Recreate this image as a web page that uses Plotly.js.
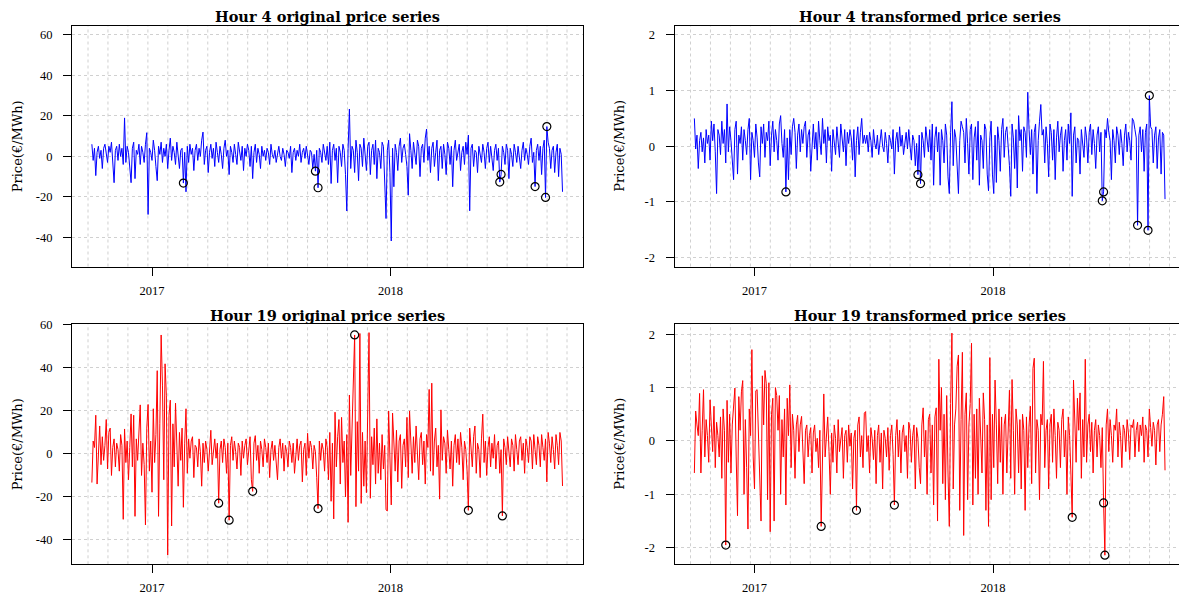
<!DOCTYPE html>
<html><head><meta charset="utf-8">
<script src="https://cdn.plot.ly/plotly-3.0.1.min.js"></script>
<style>html,body{margin:0;padding:0;background:#fff;}#chart{width:1179px;height:598px;}</style>
</head><body><div id="chart"></div>
<script>
// ---- data ----
const startDate = '2016-10-01';
const stepDays = 2;

const h4Original = [
6,-2,4,-9.5,2,5,-1,3,-6,4,6,1,-3,5,2,7,-1,-13,3,5,
-2,6,0,4,-4,19,-3,5,2,-5,-13,4,7,-11,3,1,6,-4,5,2,
-3,6,11.7,-28.7,4,2,-2,8,3,-5,-12,5,1,7,-3,4,0,6,-6,3,
9,-2,5,2,-4,7,1,-6,3,4,-13.2,2,-17.5,5,-3,6,1,4,-7,3,
6,-2,4,0,8,12,-4,3,5,-8,2,6,-1,4,-5,7,2,-3,5,1,
-6,4,8,0,3,-9,5,2,-3,6,1,-4,7,3,-2,5,-7,4,0,6,
3,-5,5,-11,2,6,-3,4,1,-6,5,0,3,-2,4,2,-4,6,1,-1,
3,-3,2,5,0,-2,4,1,-5,3,2,-1,5,-8,2,4,-2,3,0,6,
-3,2,4,-1,5,0,-4,3,2,-6,1,-7.3,3,-15.5,4,2,-3,6,1,-2,
5,-4,7,-13.4,3,6,-2,4,-13,5,2,-5,6,3,-9,-27,4,23.4,-6,5,
3,-8,8,2,-12,6,4,-5,9,1,-7,5,7,-9,3,6,-4,8,-11,4,
2,-6,7,5,-14,-30.7,3,8,-8,-41.8,4,-15,6,2,-7,5,9,-3,4,6,
1,-5,-19.2,11.2,3,-6,7,2,-4,8,5,-10,4,6,-3,9,13.5,-2,5,-8,
4,7,-5,2,8,-12,3,5,-6,6,1,-9,7,4,-4,5,-15,3,8,-2,
3,6,-7,2,5,-4,7,1,10.5,-26.9,4,6,-5,3,2,-8,5,1,-3,6,
2,-6,4,7,-3,5,0,-7,3,6,-2,4,-12.7,-8.9,5,2,-4,6,3,-11,
4,1,-5,6,2,-3,5,0,-6,3,7,-2,4,1,-4,5,9,-3,2,-14.9,
3,6,-2,5,-9,4,8,-20.3,14.7,7,4,-6,3,5,-8,2,6,-10,4,1,-17.5
];

const h4Transformed = [
0.5,-0.05,0.2,-0.4,0.1,0.25,-0.1,0.15,-0.3,0.3,0.05,0.2,-0.25,0.45,0.1,0.4,-0.1,-0.85,0.3,0.2,
-0.15,0.45,0.05,0.3,-0.3,0.76,-0.1,0.35,0.1,-0.25,-0.6,0.3,0.45,-0.5,0.2,0.05,0.35,-0.25,0.3,0.1,
-0.15,0.3,0.5,-0.6,0.25,0.1,-0.2,0.4,0.15,-0.3,-0.55,0.35,0.05,0.4,-0.2,0.25,0.1,0.45,-0.35,0.2,
0.45,-0.1,0.3,0.1,-0.25,0.4,0.55,0.05,-0.2,0.3,-0.82,0.15,-0.6,0.3,-0.15,0.35,0.5,0.25,-0.4,0.2,
0.4,-0.1,0.3,0.05,0.35,0.45,-0.2,0.2,0.3,-0.45,0.1,0.4,-0.05,0.25,-0.25,0.45,0.1,-0.15,0.5,0.05,
0.3,-0.3,0.35,0.1,0.2,-0.45,0.3,0.1,-0.15,0.35,0.05,-0.2,0.4,0.15,-0.1,0.3,-0.35,0.25,0.05,0.3,
0.15,-0.25,0.3,-0.55,0.1,0.35,-0.15,0.25,0.5,0.05,0.2,0.05,0.2,-0.1,0.25,0.1,-0.2,0.3,0.05,-0.05,
0.2,-0.15,0.1,0.3,0,-0.1,0.25,0.05,-0.3,0.2,0.1,-0.05,0.3,-0.5,0.1,0.25,-0.1,0.35,0,0.2,
-0.15,0.1,0.25,-0.05,0.3,0,-0.25,0.2,0.1,-0.35,0.05,-0.51,0.2,-0.67,0.25,0.1,-0.2,0.35,0.05,-0.1,
0.3,-0.25,0.4,-0.7,0.15,0.35,-0.1,0.25,-0.7,0.3,0.1,-0.3,0.4,0.2,-0.55,-0.85,0.25,0.8,-0.35,0.3,
0.15,-0.45,-0.85,0.1,0.45,0.35,0.25,-0.3,0.5,0.05,-0.5,0.3,0.4,-0.6,0.15,0.35,-0.25,0.45,-0.7,0.2,
0.1,-0.4,0.4,0.3,-0.5,-0.8,0.15,0.45,-0.5,-0.85,0.2,-0.65,0.35,0.1,-0.45,0.3,0.5,-0.2,0.25,0.35,
0.05,-0.35,-0.9,0.4,0.15,-0.4,0.3,-0.75,0.55,0.1,0.3,-0.45,0.35,0.25,-0.2,0.97,0.3,-0.15,0.3,-0.5,
0.25,0.4,-0.85,0.1,0.45,0.75,0.2,0.3,-0.3,0.35,0.05,-0.55,0.4,0.25,-0.25,0.3,-0.6,0.15,0.45,-0.1,
0.2,0.35,-0.45,0.1,0.3,-0.25,0.4,0.05,0.6,-0.9,0.2,0.35,-0.3,0.15,0.1,-0.5,0.3,0.05,-0.2,0.35,
0.15,-0.3,0.25,0.4,-0.15,0.3,0.05,-0.4,0.2,0.35,-0.1,0.25,-0.98,-0.82,0.3,0.15,0.5,0.25,0.1,-0.6,
0.3,0.1,-0.3,0.35,0.2,-0.15,0.3,0.05,-0.35,0.2,0.4,-0.1,0.25,0.1,-0.25,0.5,0.45,0.3,0.15,-1.42,
0.2,0.35,-0.1,0.3,-0.45,0.25,0.4,-1.51,0.91,0.35,0.3,-0.3,0.2,0.35,-0.4,0.15,0.3,-0.5,0.25,0.2,-0.95
];

const h19Original = [
-13.3,6,3,18,-14,2,13,-5,8,-3,4,16,-7,10,12,-10,3,7,-6,5,
2,-8,9,4,-30.4,11.6,-4,6,-12,3,18.6,-6,18,-29,7,-3,10,22.8,-10,5,
-5,-33,12,23,-8,6,-17.8,21,-4,9,38.7,-29,14,55.3,32,-12,41.9,27,-47,18,
25,-33.5,14,-6,23.6,8,-15,10,-3,12,-24.8,5,21,-9,7,-2,6,8,-11,4,
3,-6,7,1,-15,5,-4,6,2,-8,4,11,-5,3,7,-2,5,-22.9,2,6,
-4,7,3,-9,5,-30.8,4,8,-3,6,1,-7,5,3,-10,6,-2,4,7,-5,
3,8,-12,-17.4,5,8.5,-3,4,-9,6,2,-6,7,3,-4,5,-11,2,6,-3,
4,-5,-12,3,7,-2,5,-8,4,1,-6,6,3,-4,5,-9,2,7,-3,4,
6,-13,2,5,-10,9.6,-2,6,3,-7,4,1,-11,-25.4,6,-3,5,2,-8,7,
3,-12,10,-22,5,-30.2,19.4,-6,8,16,-14,17,-4,6,-20,9,-31.8,27.4,-10,12,
31,55.3,-24.5,15,-8,56,-23,10,-15,6,-18,14,56.4,-20.6,8,-5,12,-14,16.3,-9,
5,-12,9,-7,4,-26,-26.5,20,-10,-23.7,19,3,-8,11,-13,6,9,-16,4,7,
-6,17,-11,20,5,-9,8,-4,13,2,-12,7,10,-5,6,-14,9,3,30,-8,
32.9,-10,6,12,-6,4,-21,20.5,-3,8,5,-9,11,2,-7,6,-15,4,9,-4,
7,-5,10,3,-12,6,2,-8,-26.2,12,4,-6,8,13,-9,5,2,-11,7,18.5,
-4,6,-10,3,8,-6,5,-2,9,-7,4,6,-9,2,-28.8,7,3,-5,8,1,
-6,7,4,-8,9,2,-5,6,8,-3,5,-9,7,3,-4,8,6,-7,9,2,
-5,8,4,-6,9,3,-3,7,-13,10,5,-4,8,2,-7,9,4,-5,10,6,-14.9
];

const h19Transformed = [
-0.6,0.56,0.3,0.1,0.89,-0.6,0.2,0.96,-0.3,0.4,0.1,-0.4,0.77,0.3,-0.2,0.65,-0.5,0.35,0.1,-0.3,
0.45,-0.7,0.6,0.2,-1.95,0.76,-0.4,0.5,-0.6,0.3,0.6,0.99,-0.3,-1.4,0.83,0.2,0.92,1.13,-1,0.4,
-0.5,-1.65,0.6,0.1,1.71,-0.3,-0.9,0.94,0.96,0.2,-0.6,-1.5,1.22,0.3,1.32,1.07,-1.1,1.09,-1.7,0.5,
0.8,-1.5,1,0.85,0.2,0.85,-1,0.4,-0.3,0.6,-1.2,0.8,0.1,1.05,-0.5,0.5,0.2,-0.7,0.3,0.48,
-0.2,0.3,0.46,-0.4,-0.8,0.2,0.3,-0.3,0.1,0.25,-0.6,0.15,0.3,-0.2,0.05,-0.5,0.2,-1.6,0.1,0.88,
-0.3,0.2,0.45,-0.2,-1,0.15,-0.4,0.3,0.05,-0.6,0.4,-0.2,0.1,0.25,-0.7,0.1,0.2,-0.4,0.3,-0.1,
0.15,-0.9,0.05,0.2,-1.3,0.3,0.45,-0.3,0.1,-0.5,0.52,0.55,-0.2,0.1,-0.6,0.25,0.05,-0.35,0.2,-0.8,
0.1,0.3,-0.4,0.15,-0.9,0.2,0.05,-0.3,0.25,-0.55,0.1,0.3,-0.25,-1.2,0.1,0.4,-0.3,0.2,-0.6,0.15,
0.3,-0.2,0.1,-0.7,0.35,0.2,-0.4,0.1,0.3,-0.9,0.25,0.05,-0.5,-0.8,0.3,0.62,-0.3,0.2,-1,0.4,
0.5,-0.6,0.3,-1.2,0.45,0.62,-1.5,1.53,0.2,1,-0.8,0.5,-1.1,0.85,-0.6,-1.6,0.7,2.02,-0.9,0.3,
0.6,1.4,1.61,-1.3,0.4,1.66,-1.77,0.5,0.9,-1.1,0.3,0.7,1.83,-1.2,0.5,-0.7,0.6,-1,0.8,0.2,
-0.6,0.9,0.4,-1.3,0.3,-1.6,1.56,-1.1,0.5,-0.5,1.14,0.3,-0.8,0.6,-0.4,0.45,-1,0.3,0.5,-0.6,
0.3,0.95,-0.7,1.15,0.2,-1,0.6,0.3,-0.6,0.4,-0.9,0.5,0.2,-1.3,0.45,-0.5,0.3,0.65,-0.8,1.36,
1.55,-0.6,0.4,0.2,-1.1,0.5,0.3,1.49,-0.5,0.2,0.4,-0.9,0.3,0.5,-0.4,0.6,0.1,-0.7,0.35,0.2,
-0.5,0.4,0.6,-0.3,0.2,-1,0.45,0.1,-0.6,-1.43,1.14,0.3,-0.4,0.8,0.2,0.9,-0.7,0.4,-0.3,1.53,
-0.4,0.3,0.5,-0.2,0.35,-0.6,0.2,0.4,-0.3,0.3,0.1,-0.5,0.25,-1.16,-2.14,0.3,0.6,-0.2,0.4,0.1,
-0.4,0.3,0.2,0.6,-0.3,0.35,0.1,-0.5,0.3,0.2,-0.2,0.4,0.15,-0.35,0.3,0.25,0.4,-0.3,0.2,0.35,
-0.2,0.3,0.1,0.45,-0.4,0.3,0.2,-0.3,0.6,0.25,-0.1,0.35,0.2,-0.45,0.3,0.4,-0.2,0.3,0.5,0.83,-0.55
];

// indices (into the series) of the circled outliers
const h4OrigOutliers  = [70,171,173,312,313,339,347,348];
const h4TransOutliers = [70,171,173,312,313,339,347,348];
const h19OrigOutliers = [97,105,123,173,201,288,314];
const h19TransOutliers= [24,97,124,153,289,313,314];

const panelTitles = ['Hour 4 original price series','Hour 4 transformed price series',
                     'Hour 19 original price series','Hour 19 transformed price series'];
const yTitle = 'Price(\u20AC/MWh)';
const xTickVals = ['2017-01-01','2018-01-01'];
const xTickText = ['2017','2018'];
const yTicksOrig = [-40,-20,0,20,40,60];
const yTicksTrans = [-2,-1,0,1,2];

// ---- build ----
const W = 1179, H = 598;
const DAY = 86400000;
const t0 = Date.parse(startDate + 'T00:00:00Z');
function dstr(ms){ return new Date(ms).toISOString().replace('T',' ').slice(0,19); }
function datesFor(n){ const a=[]; for(let i=0;i<n;i++) a.push(dstr(t0 + i*stepDays*DAY)); return a; }

const pxPerDay = 0.6537;
const leftL = 72, leftR = 583, rightL = 674.5;
const rangeStartMs = t0 - (91.86 - leftL)/pxPerDay*DAY;
const fullEndMs = rangeStartMs + (leftR-leftL)/pxPerDay*DAY;
const rightEndMs = rangeStartMs + (W-rightL)/pxPerDay*DAY;

const top1=26, bot1=266.5, top2=324, bot2=564.3;
const py = v => 1 - v/H, px = v => v/W;

const font = "'Liberation Serif','Times New Roman',serif";
const fontWide = "'DejaVu Serif',serif";
const series = [h4Original,h4Transformed,h19Original,h19Transformed];
const outl = [h4OrigOutliers,h4TransOutliers,h19OrigOutliers,h19TransOutliers];
const colors = ['#0000ff','#0000ff','#ff0000','#ff0000'];
const yRanges = [[-54.4,64.4],[-2.16,2.16],[-51.3,60.4],[-2.31,2.19]];
const yTicks = [yTicksOrig,yTicksTrans,yTicksOrig,yTicksTrans];

const traces = [];
const layout = {
  width: W, height: H, margin:{l:0,r:0,t:0,b:0},
  paper_bgcolor:'#fff', plot_bgcolor:'#fff', showlegend:false,
  font:{family:font, color:'#000', size:12.5},
  annotations:[], shapes:[]
};

for (let p=0;p<4;p++){
  const s = series[p];
  const x = datesFor(s.length);
  const ax = p===0?'':String(p+1);
  const xa = 'x'+ax, ya = 'y'+ax;
  traces.push({type:'scatter', mode:'lines', x:x, y:s, xaxis:xa, yaxis:ya,
    line:{color:colors[p], width:1}, hoverinfo:'skip'});
  traces.push({type:'scatter', mode:'markers', x:outl[p].map(i=>x[i]), y:outl[p].map(i=>s[i]),
    xaxis:xa, yaxis:ya, marker:{symbol:'circle-open', size:8, color:'#000', line:{width:1.2,color:'#000'}},
    hoverinfo:'skip'});
  const isRight = (p%2===1), isTop = p<2;
  const dL = isRight?rightL:leftL, dR = isRight?W:leftR;
  const tp = isTop?top1:top2, bt = isTop?bot1:bot2;
  layout['xaxis'+ax] = {
    domain:[px(dL), Math.min(1,px(dR))], anchor:ya,
    type:'date', range:[dstr(rangeStartMs), dstr(isRight?rightEndMs:fullEndMs)],
    tickmode:'array', tickvals:xTickVals, ticktext:xTickText,
    ticks:'outside', ticklen:8, tickwidth:1, tickcolor:'#000',
    showline:true, linecolor:'#000', linewidth:1, mirror:true,
    showgrid:false, zeroline:false, ticklabelstandoff:4,
    tickfont:{family:font,size:12.5,color:'#000'}
  };
  layout['yaxis'+ax] = {
    domain:[py(bt), py(tp)], anchor:xa, range:yRanges[p],
    tickmode:'array', tickvals:yTicks[p], ticktext:yTicks[p].map(v=>String(v)),
    ticks:'outside', ticklen:8, tickwidth:1, tickcolor:'#000',
    showline:true, linecolor:'#000', linewidth:1, mirror:!isRight,
    showgrid:true, gridcolor:'#d0d0d0', griddash:'dot', gridwidth:1,
    zeroline:false, ticklabelstandoff:8,
    tickfont:{family:font,size:12.5,color:'#000'}
  };
  // vertical dotted grid
  for (let k=0;k<25;k++){
    const f = 0.03131 + 0.03906*k;
    const ms = rangeStartMs + f*(fullEndMs-rangeStartMs);
    if (ms > (isRight?rightEndMs:fullEndMs)) continue;
    layout.shapes.push({type:'line', xref:xa, yref:ya+' domain', x0:dstr(ms), x1:dstr(ms), y0:0, y1:1,
      line:{color:'#d0d0d0', width:1, dash:'dot'}, layer:'below'});
  }
  // panel title
  layout.annotations.push({text:'<b>'+panelTitles[p]+'</b>', xref:'paper', yref:'paper',
    x:px((dL+(isRight?dL+511:dR))/2), y:py(tp-9), xanchor:'center', yanchor:'middle',
    showarrow:false, font:{family:fontWide,size:14.5,color:'#000'}});
  // y title
  layout.annotations.push({text:yTitle, xref:'paper', yref:'paper',
    x:px(dL-55), y:py((tp+bt)/2), xanchor:'center', yanchor:'middle', textangle:-90,
    showarrow:false, font:{family:fontWide,size:13,color:'#000'}});
}

Plotly.newPlot('chart', traces, layout, {staticPlot:true, displayModeBar:false});
</script></body></html>
